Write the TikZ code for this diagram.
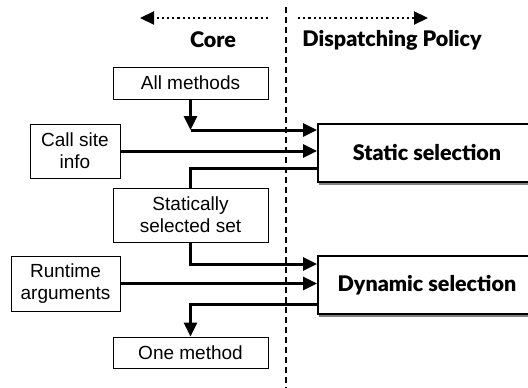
\documentclass[tikz,border=0pt]{standalone}
\usepackage{fontspec}
\setmainfont{Liberation Sans}
\newfontfamily\headfont{Lato}[BoldFont={Lato Black}]
\usetikzlibrary{calc,arrows.meta,shadows}

\tikzset{
    inbox/.style={draw, line width=1pt, align=center, inner sep=0pt,
        font=\fontsize{19}{22}\selectfont},
    selbox/.style={draw, line width=2pt, fill=white, inner sep=0pt,
        minimum width=218pt, minimum height=58pt,
        font=\headfont\bfseries\fontsize{21.5}{24}\selectfont,
        drop shadow={shadow xshift=1pt, shadow yshift=-3pt, fill=black!70, opacity=.7}},
    flow/.style={line width=3pt, -{Triangle[length=14pt,width=13pt]}},
    wire/.style={line width=3pt},
    side/.style={line width=2.2pt, dash pattern=on 2.2pt off 3pt, -{Triangle[length=14pt,width=13pt]}},
}

\begin{document}
\begin{tikzpicture}[x=1pt,y=-1pt]
            \clip (0,0) rectangle (528,388);
            \fill [white] (0,0) rectangle (528,388);

            % divider between the two sides
            \coordinate (divtop) at (286,7);
            \coordinate (divbot) at (286,392);
            \draw [line width=1.3pt, dash pattern=on 6pt off 4pt] (divtop) -- (divbot);

            \coordinate (coretip) at (140,18);
            \coordinate (corestart) at (268,18);
            \coordinate (polstart) at (298,18);
            \coordinate (poltip) at (428,18);
            \draw [side] (corestart) -- (coretip);
            \draw [side] (polstart) -- (poltip);

            \node (core) at (213,40) [font=\headfont\bfseries\fontsize{21.5}{24}\selectfont] {Core};
            \node (policy) at (392,40) [font=\headfont\bfseries\fontsize{21.5}{24}\selectfont] {Dispatching Policy};

            % inputs and outputs
            \node (all) at (190.5,83) [inbox, minimum width=155pt, minimum height=32pt] {All methods};
            \node (call) at (75,151) [inbox, minimum width=90pt, minimum height=54pt] {Call site\\info};
            \node (stat) at (190.5,215) [inbox, minimum width=155pt, minimum height=54pt] {Statically\\selected set};
            \node (run) at (65.5,283.5) [inbox, minimum width=109pt, minimum height=55pt] {Runtime\\arguments};
            \node (one) at (190.5,352.5) [inbox, minimum width=155pt, minimum height=31pt] {One method};

            % selection steps
            \node (static) at (427,153) [selbox] {Static selection};
            \node (dynamic) at (427,285) [selbox] {Dynamic selection};

            \coordinate (allin) at ($(static.west) + (0,-23)$);
            \coordinate (bend) at (all.south |- allin);
            \draw [flow] (all.south) -- (bend);
            \draw [flow] (bend) -- (allin);
            \draw [flow] (call.east) -- (call.east -| static.west);
            \draw [wire] ($(static.west) + (0,15)$) -| (stat.north);

            \draw [flow] (stat.south) |- ($(dynamic.west) + (0,-21)$);
            \draw [flow] (run.east) -- (run.east -| dynamic.west);
            \draw [flow] ($(dynamic.west) + (0,19)$) -| (one.north);

\end{tikzpicture}
\end{document}
